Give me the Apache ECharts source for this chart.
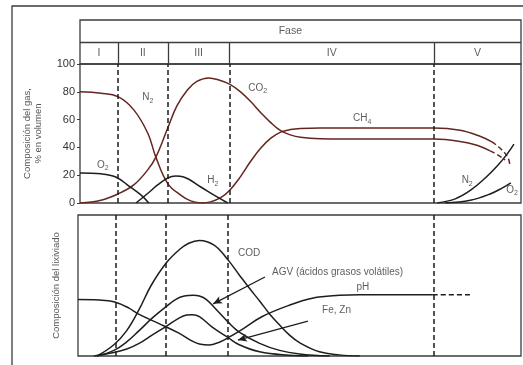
<!DOCTYPE html>
<html>
<head>
<meta charset="utf-8">
<script src="https://cdn.jsdelivr.net/npm/echarts@6/dist/echarts.min.js"></script>
<style>
html, body { margin: 0; padding: 0; background: #fff; }
#chart { width: 523px; height: 365px; }
</style>
</head>
<body>
<div id="chart"></div>
<script>
// fases (eje de tiempo sin escala, 0-100)
const phaseNames = ['I', 'II', 'III', 'IV', 'V'];
const phaseBounds = [8.6, 19.9, 33.9, 80.3];

// composición del gas, % en volumen
const gasTicks = [0, 20, 40, 60, 80, 100];
const n2 = [[0,80],[4.75,79],[8.6,76.5],[12.2,67],[15.4,50],[17.2,33],[19.9,14],[22.9,5.5],[25.1,1.5],[27.4,0]];
const co2 = [[0,0],[4.75,2],[8.6,6.5],[12.2,13],[15.4,24],[17.2,33],[19.9,54],[22.0,70],[24.4,81.5],[26.5,87.5],[29.2,90],[31.5,88.5],[33.9,85.5],[36.4,80],[38.7,73],[41.0,65],[43.2,58],[45.5,52],[47.7,49],[50.0,47.3],[54.5,46.2],[60,46],[80.3,46],[86.2,44.3],[90.0,41.5],[93.0,37.5]];
const co2Tail = [[93.0,37.5],[94.8,34.5],[96.4,31]];
const ch4 = [[27.4,0],[29.6,0.8],[31.9,3.8],[33.9,9],[36.4,19],[38.7,30],[41.0,39.5],[43.2,46.5],[45.5,51],[47.7,52.8],[50.0,53.6],[54.5,54],[60,54],[80.3,54],[86.2,52.3],[90.7,48],[93.4,44]];
const ch4Tail = [[93.4,44],[95.4,39],[97.0,33],[97.5,27]];
const o2Start = [[0,21.6],[4.75,21],[8.1,18.7],[11.1,12.2],[13.8,5.8],[15.6,0]];
const h2 = [[12.7,0],[15.4,7],[17.6,13],[19.9,18],[21.7,19.4],[23.5,18.7],[27.4,11.5],[30.3,5.8],[33.5,0]];
const n2End = [[81.0,0],[85.1,3],[88.5,9],[91.9,18],[94.6,26.6],[96.8,35],[98.4,42.4]];
const o2End = [[82.8,0],[88.5,2],[93.0,6.5],[95.9,11],[97.7,14.4]];

// composición del lixiviado (relativa)
const cod = [[4.3,0],[8.1,8],[11,18],[13.8,33],[16.5,50],[19.9,66],[22.9,75.5],[25,80],[27.4,82],[30.8,78.5],[33.9,68],[36.4,57.5],[38.7,48],[41.0,39],[43.2,30],[45.5,22],[47.7,15],[50,9.5],[54.5,3],[59,0.8],[63.6,0]];
const agv = [[4.3,0],[8.1,4],[11,10],[13.8,18],[16.8,27],[19.9,35],[22,40],[24,42.5],[26,43],[27.4,42.5],[29,40],[31.2,33],[33.9,24],[36.4,17],[41,9],[45.5,4],[50,1.5],[56.8,0]];
const feZn = [[3.6,0],[8.1,2.5],[11,5],[13.8,9],[16.8,15],[19.9,21],[22.9,27],[24.5,29],[25.8,29.3],[27.4,28],[30.3,20.5],[33.9,13],[36.4,8],[41,3],[47.7,0.5],[52,0]];
const ph = [[0,40],[4.75,39.7],[8.1,38.5],[11.5,34],[13.8,29.5],[18.3,23],[22.9,16],[25.8,10.5],[27.4,8.5],[29.6,7.8],[31.9,9.8],[33.9,13],[37.6,20],[41.6,28],[47.7,36],[52.9,41],[59,43],[63.6,43.5],[80.1,43.5]];
const phTail = [[80.1,43.5],[88.5,43.5]];

// rótulos y flechas (coordenadas de datos)
const gasNotes = [
  { text: 'N{s|2}', at: [15.4, 76] },
  { text: 'CO{s|2}', at: [40.3, 82.7] },
  { text: 'CH{s|4}', at: [64, 61] },
  { text: 'H{s|2}', at: [30.1, 16.5] },
  { text: 'O{s|2}', at: [5.2, 27.3] },
  { text: 'N{s|2}', at: [87.8, 16.5] },
  { text: 'O{s|2}', at: [98, 9.4] }
];
const lixNotes = [
  { text: 'COD', at: [36.1, 73], align: 'left' },
  { text: 'AGV (ácidos grasos volátiles)', at: [43.8, 59.6], align: 'left' },
  { text: 'pH', at: [64.3, 49] },
  { text: 'Fe, Zn', at: [55.1, 32.6], align: 'left' }
];
const lixArrows = [
  { from: [42.2, 56], to: [30.5, 37] },
  { from: [51.9, 24.8], to: [36.1, 11.3] }
];

const BROWN = '#642620';
const DARK = '#1e1e1e';
const FRAME = '#3c3c3c';
const FONT = '"Liberation Sans", Arial, sans-serif';
const RICH = { s: { fontSize: 7, lineHeight: 8, verticalAlign: 'bottom', fontFamily: FONT, color: '#333' } };

const chart = echarts.init(document.getElementById('chart'), null, { renderer: 'canvas' });

function curve(data, grid, color, dashed) {
  return {
    type: 'line', xAxisIndex: grid, yAxisIndex: grid, data: data,
    showSymbol: false, smooth: 0.4, silent: true, animation: false,
    lineStyle: { color: color, width: 1.5, type: dashed ? [5, 3] : 'solid' },
    z: 3
  };
}

function phaseLines(grid) {
  return {
    type: 'line', xAxisIndex: grid, yAxisIndex: grid, data: [], silent: true,
    markLine: {
      silent: true, symbol: ['none', 'none'], label: { show: false }, animation: false,
      lineStyle: { color: DARK, width: 1.5, type: [5, 3] },
      data: phaseBounds.map(v => ({ xAxis: v }))
    }
  };
}

function notes(list, grid) {
  return {
    type: 'scatter', xAxisIndex: grid, yAxisIndex: grid, symbolSize: 0, silent: true,
    data: list.map(n => ({ value: n.at, label: { formatter: n.text, align: n.align || 'center' } })),
    label: { show: true, position: 'inside', color: '#333', fontFamily: FONT, fontSize: 10, lineHeight: 14, rich: RICH },
    z: 5
  };
}

// cabecera: fila "Fase" y fila de fases
const edges = [0].concat(phaseBounds, [100]);
const phaseCenters = phaseNames.map((n, i) => (edges[i] + edges[i + 1]) / 2);

const header = {
  type: 'scatter', xAxisIndex: 0, yAxisIndex: 0, symbolSize: 0, silent: true,
  data: [{ value: [47.7, 1.5], name: 'Fase' }].concat(phaseNames.map((n, i) => ({ value: [phaseCenters[i], 0.5], name: n }))),
  label: { show: true, position: 'inside', formatter: '{b}', color: '#333', fontFamily: FONT, fontSize: 10.5 },
  markLine: {
    silent: true, symbol: ['none', 'none'], label: { show: false }, animation: false,
    lineStyle: { color: FRAME, width: 1.3, type: 'solid' },
    data: [{ yAxis: 1 }].concat(phaseBounds.map(v => [{ coord: [v, 0] }, { coord: [v, 1] }]))
  }
};

const hiddenX = i => ({ type: 'value', gridIndex: i, min: 0, max: 100, show: false });

const option = {
  animation: false,
  backgroundColor: '#fff',
  textStyle: { fontFamily: FONT },
  graphic: [{
    type: 'rect', silent: true,
    shape: { x: 12, y: 6, width: 530, height: 400 },
    style: { fill: 'none', stroke: FRAME, lineWidth: 1.3 }
  }],
  grid: [
    { left: 80, right: 2, top: 20, height: 44, show: true, borderColor: FRAME, borderWidth: 1.3 },
    { left: 80, right: 2, top: 64, height: 139, show: true, borderColor: FRAME, borderWidth: 1.3 },
    { left: 78, right: 2, top: 215, height: 141, show: true, borderColor: FRAME, borderWidth: 1.3 }
  ],
  xAxis: [hiddenX(0), hiddenX(1), hiddenX(2)],
  yAxis: [
    { type: 'value', gridIndex: 0, min: 0, max: 2, show: false },
    {
      type: 'value', gridIndex: 1, min: gasTicks[0], max: gasTicks[gasTicks.length - 1], interval: 20,
      name: 'Composición del gas,\n% en volumen', nameLocation: 'middle', nameRotate: 90, nameGap: 36,
      nameTextStyle: { color: '#555', fontSize: 9.5, lineHeight: 11, fontFamily: FONT },
      axisLine: { show: false },
      axisTick: { show: true, length: 3, lineStyle: { color: FRAME } },
      axisLabel: { color: '#333', fontSize: 11, margin: 5, fontFamily: FONT },
      splitLine: { show: false }
    },
    {
      type: 'value', gridIndex: 2, min: 0, max: 100,
      name: 'Composición del lixiviado', nameLocation: 'middle', nameRotate: 90, nameGap: 17,
      nameTextStyle: { color: '#555', fontSize: 9.5, fontFamily: FONT },
      axisLine: { show: false }, axisTick: { show: false }, axisLabel: { show: false }, splitLine: { show: false }
    }
  ],
  series: [
    header,
    phaseLines(1),
    curve(n2, 1, BROWN),
    curve(co2, 1, BROWN),
    curve(co2Tail, 1, BROWN, true),
    curve(ch4, 1, BROWN),
    curve(ch4Tail, 1, BROWN, true),
    curve(o2Start, 1, DARK),
    curve(h2, 1, DARK),
    curve(n2End, 1, DARK),
    curve(o2End, 1, DARK),
    notes(gasNotes, 1),
    phaseLines(2),
    curve(cod, 2, DARK),
    curve(agv, 2, DARK),
    curve(feZn, 2, DARK),
    curve(ph, 2, DARK),
    curve(phTail, 2, DARK, true),
    notes(lixNotes, 2),
    {
      type: 'line', xAxisIndex: 2, yAxisIndex: 2, data: [], silent: true,
      markLine: {
        silent: true, symbol: ['none', 'arrow'], symbolSize: [6, 9], label: { show: false }, animation: false,
        lineStyle: { color: DARK, width: 1.3, type: 'solid' },
        data: lixArrows.map(a => [{ coord: a.from }, { coord: a.to }])
      }
    }
  ]
};

chart.setOption(option);
</script>
</body>
</html>
